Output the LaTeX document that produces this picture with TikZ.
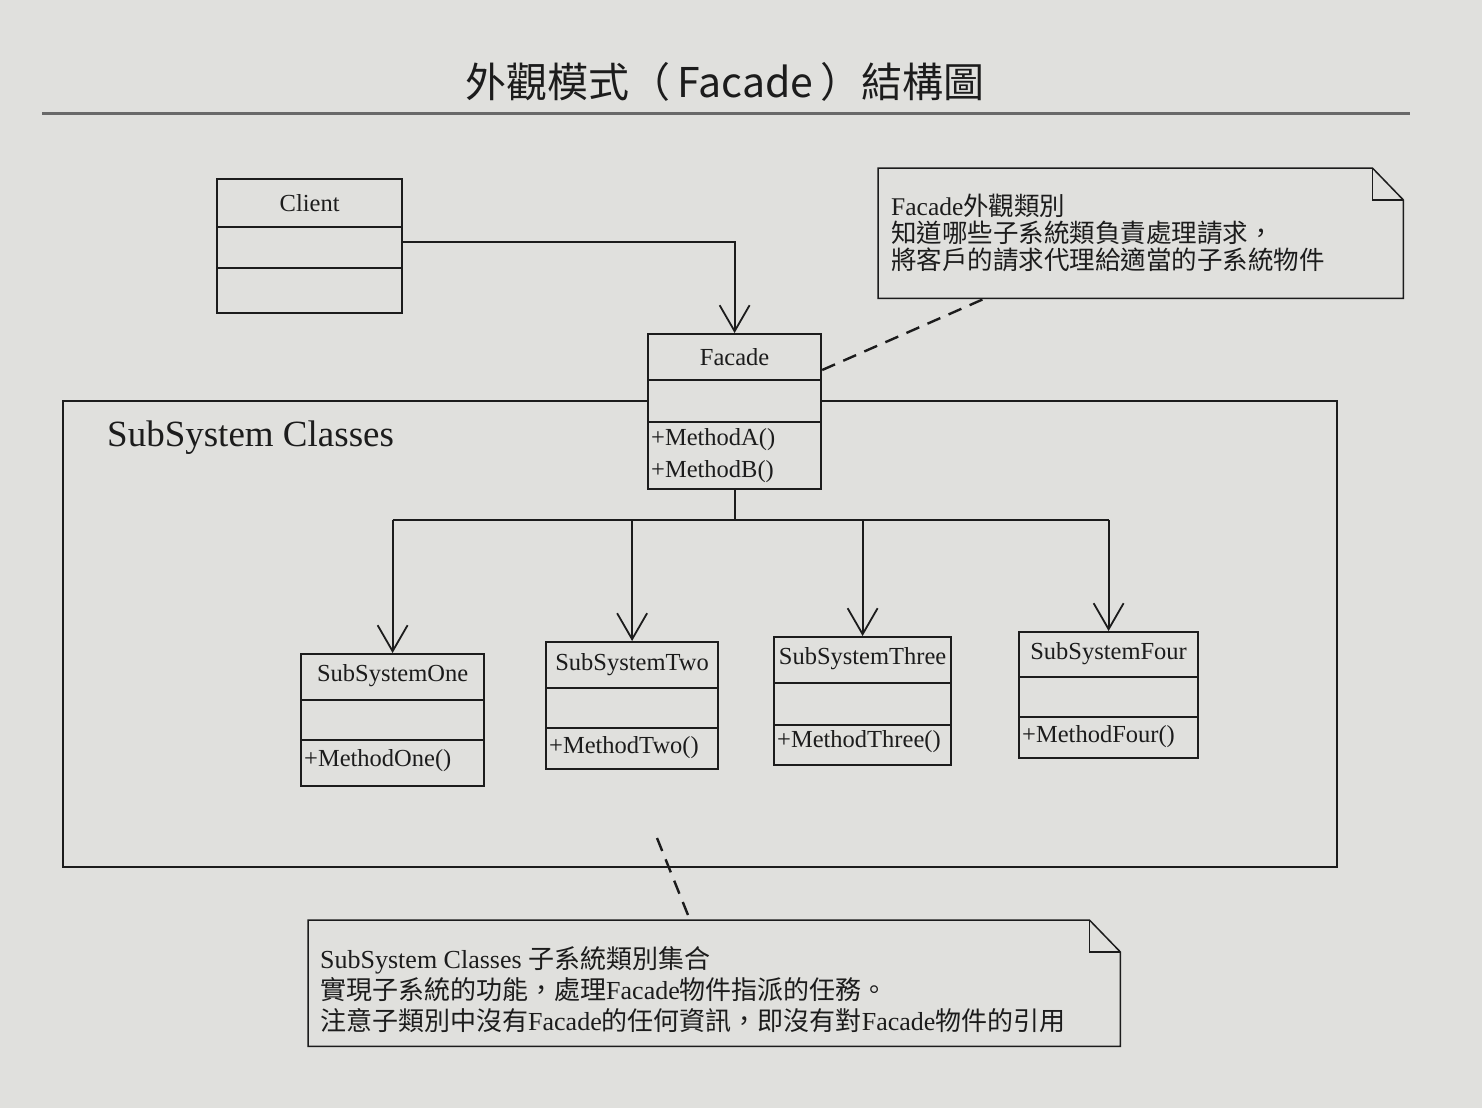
\documentclass[tikz,border=0pt]{standalone}
\usepackage{fontspec}
\setmainfont{Liberation Serif}
\newfontfamily\cjk{Noto Sans CJK TC}
\usetikzlibrary{arrows.meta,calc}
\definecolor{paper}{RGB}{224,224,221}
\definecolor{ink}{RGB}{28,28,28}
\definecolor{rulegray}{RGB}{105,105,105}
\begin{document}
\begin{tikzpicture}[x=1pt,y=-1pt,
  cls/.style={draw=ink, line width=2.2pt, fill=paper, inner sep=0pt, anchor=north west},
  clsname/.style={font=\fontsize{24.5}{29}\selectfont, text=ink, inner sep=0pt},
  meth/.style={font=\fontsize{24.5}{29}\selectfont, text=ink, anchor=west, inner sep=0pt},
  sep/.style={draw=ink, line width=2pt},
  conn/.style={draw=ink, line width=1.8pt},
  arr/.style={-{Straight Barb[length=26pt,width=30pt]}},
  notebox/.style={draw=ink, line width=1.5pt, line join=miter},
  notetext/.style={font=\fontsize{25.5}{29}\selectfont, text=ink, align=left, anchor=north west, inner sep=0pt},
  anchorline/.style={draw=ink, line width=2.4pt, dash pattern=on 14pt off 9pt}]

\fill[paper] (0,0) rectangle (1482,1108);
\useasboundingbox (0,0) rectangle (1482,1108);

% title
\node[font=\cjk\fontsize{41}{49}\selectfont, text=ink] (title) at (725,82) {外觀模式（\,Facade\,）結構圖};
\coordinate (ruleL) at (42,113);
\coordinate (ruleR) at (1410,113);
\draw[rulegray, line width=3pt] (ruleL) -- (ruleR);

% subsystem container
\node[draw=ink, line width=2.4pt, minimum width=1274pt, minimum height=466pt, anchor=north west, inner sep=0pt] (subsys) at (62,400) {};
\node[font=\fontsize{37}{42}\selectfont, text=ink, anchor=west, inner sep=0pt] (subsyslabel) at (107,438) {SubSystem Classes};

% Client
\node[cls, minimum width=185pt, minimum height=134pt] (client) at (216,178) {};
\draw[sep] ($(client.north west)+(0,49)$) -- ($(client.north east)+(0,49)$);
\draw[sep] ($(client.north west)+(0,90)$) -- ($(client.north east)+(0,90)$);
\node[clsname] (clientname) at ($(client.north)+(0,25)$) {Client};

% Facade
\node[cls, minimum width=173pt, minimum height=155pt] (facade) at (647,333) {};
\draw[sep] ($(facade.north west)+(0,47)$) -- ($(facade.north east)+(0,47)$);
\draw[sep] ($(facade.north west)+(0,89)$) -- ($(facade.north east)+(0,89)$);
\node[clsname] (facadename) at ($(facade.north)+(0,24)$) {Facade};
\node[meth] (ma) at ($(facade.north west)+(4,107)$) {+MethodA()};
\node[meth] (mb) at ($(facade.north west)+(4,139)$) {+MethodB()};

% SubSystems
\node[cls, minimum width=183pt, minimum height=132pt] (one) at (300,653) {};
\draw[sep] ($(one.north west)+(0,47)$) -- ($(one.north east)+(0,47)$);
\draw[sep] ($(one.north west)+(0,87)$) -- ($(one.north east)+(0,87)$);
\node[clsname] (onename) at ($(one.north)+(0,23)$) {SubSystemOne};
\node[meth] (onem) at ($(one.north west)+(4,108)$) {+MethodOne()};

\node[cls, minimum width=172pt, minimum height=127pt] (two) at (545,641) {};
\draw[sep] ($(two.north west)+(0,47)$) -- ($(two.north east)+(0,47)$);
\draw[sep] ($(two.north west)+(0,87)$) -- ($(two.north east)+(0,87)$);
\node[clsname] (twoname) at ($(two.north)+(0,24)$) {SubSystemTwo};
\node[meth] (twom) at ($(two.north west)+(4,107)$) {+MethodTwo()};

\node[cls, minimum width=177pt, minimum height=128pt] (three) at (773,636) {};
\draw[sep] ($(three.north west)+(0,47)$) -- ($(three.north east)+(0,47)$);
\draw[sep] ($(three.north west)+(0,89)$) -- ($(three.north east)+(0,89)$);
\node[clsname] (threename) at ($(three.north)+(0,23)$) {SubSystemThree};
\node[meth] (threem) at ($(three.north west)+(4,106)$) {+MethodThree()};

\node[cls, minimum width=179pt, minimum height=126pt] (four) at (1018,631) {};
\draw[sep] ($(four.north west)+(0,46)$) -- ($(four.north east)+(0,46)$);
\draw[sep] ($(four.north west)+(0,86)$) -- ($(four.north east)+(0,86)$);
\node[clsname] (fourname) at ($(four.north)+(0,23)$) {SubSystemFour};
\node[meth] (fourm) at ($(four.north west)+(4,106)$) {+MethodFour()};

% Client -> Facade
\draw[conn,arr] ($(client.north east)+(0,64)$) -| (facade.north);

% Facade -> subsystems
\coordinate (bus) at (735,520);
\draw[conn] (facade.south) -- (facade.south |- bus);
\draw[conn] (one.north |- bus) -- (four.north |- bus);
\draw[conn,arr] (one.north |- bus) -- (one.north);
\draw[conn,arr] (two.north |- bus) -- (two.north);
\draw[conn,arr] (three.north |- bus) -- (three.north);
\draw[conn,arr] (four.north |- bus) -- (four.north);

% Note 1
\node[minimum width=525pt, minimum height=130pt, anchor=north west, inner sep=0pt] (note1) at (878,168) {};
\draw[notebox] (note1.north west) -- ($(note1.north east)+(-31,0)$) -- ($(note1.north east)+(0,32)$) -- (note1.south east) -- (note1.south west) -- cycle;
\draw[notebox] ($(note1.north east)+(-31,0)$) -- ($(note1.north east)+(-31,32)$) -- ($(note1.north east)+(0,32)$);
\node[notetext] (note1text) at ($(note1.north west)+(13,26)$) {Facade{\cjk 外觀類別}\\[-2pt]{\cjk 知道哪些子系統類負責處理請求，}\\[-2pt]{\cjk 將客戶的請求代理給適當的子系統物件}};
\coordinate (n1pin) at ($(note1.south west)+(107,0)$);
\draw[anchorline] ($(facade.north east)+(0,37)$) -- (n1pin);

% Note 2
\node[minimum width=812pt, minimum height=126pt, anchor=north west, inner sep=0pt] (note2) at (308,920) {};
\draw[notebox] (note2.north west) -- ($(note2.north east)+(-31,0)$) -- ($(note2.north east)+(0,32)$) -- (note2.south east) -- (note2.south west) -- cycle;
\draw[notebox] ($(note2.north east)+(-31,0)$) -- ($(note2.north east)+(-31,32)$) -- ($(note2.north east)+(0,32)$);
\node[notetext, font=\fontsize{26}{30}\selectfont] (note2text) at ($(note2.north west)+(12,26)$) {SubSystem Classes {\cjk 子系統類別集合}\\[1pt]{\cjk 實現子系統的功能，處理}Facade{\cjk 物件指派的任務。}\\[1pt]{\cjk 注意子類別中沒有}Facade{\cjk 的任何資訊，即沒有對}Facade{\cjk 物件的引用}};
\coordinate (n2start) at (657,838);
\draw[anchorline] (n2start) -- ($(note2.north west)+(382,0)$);

\end{tikzpicture}
\end{document}
